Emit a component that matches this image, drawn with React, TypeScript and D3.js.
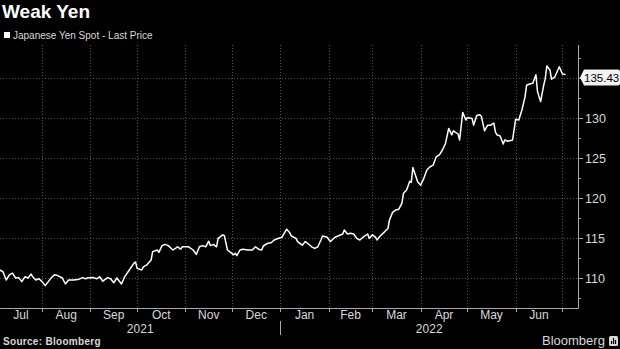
import React from 'react';
import * as d3 from 'd3';

const title = 'Weak Yen';
const legendLabel = 'Japanese Yen Spot - Last Price';

const dates = [
  '2021-07-05', '2021-07-07', '2021-07-09', '2021-07-11', '2021-07-13', '2021-07-15', '2021-07-17', '2021-07-19',
  '2021-07-21', '2021-07-23', '2021-07-25', '2021-07-26', '2021-07-28', '2021-07-30', '2021-08-01', '2021-08-03',
  '2021-08-05', '2021-08-07', '2021-08-09', '2021-08-11', '2021-08-14', '2021-08-16', '2021-08-18', '2021-08-21',
  '2021-08-24', '2021-08-27', '2021-08-29', '2021-08-30', '2021-09-03', '2021-09-05', '2021-09-07', '2021-09-09',
  '2021-09-12', '2021-09-14', '2021-09-16', '2021-09-18', '2021-09-21', '2021-09-23', '2021-09-26', '2021-09-29',
  '2021-09-30', '2021-10-01', '2021-10-04', '2021-10-05', '2021-10-07', '2021-10-10', '2021-10-11', '2021-10-14',
  '2021-10-15', '2021-10-17', '2021-10-19', '2021-10-21', '2021-10-24', '2021-10-27', '2021-10-29', '2021-10-30',
  '2021-11-03', '2021-11-06', '2021-11-08', '2021-11-10', '2021-11-12', '2021-11-14', '2021-11-16', '2021-11-17',
  '2021-11-19', '2021-11-21', '2021-11-22', '2021-11-25', '2021-11-26', '2021-11-28', '2021-11-30', '2021-12-02',
  '2021-12-03', '2021-12-04', '2021-12-06', '2021-12-08', '2021-12-11', '2021-12-14', '2021-12-16', '2021-12-18',
  '2021-12-20', '2021-12-21', '2021-12-24', '2021-12-26', '2021-12-28', '2021-12-30', '2022-01-02', '2022-01-05',
  '2022-01-07', '2022-01-08', '2022-01-11', '2022-01-12', '2022-01-15', '2022-01-17', '2022-01-19', '2022-01-21',
  '2022-01-23', '2022-01-25', '2022-01-27', '2022-01-28', '2022-01-31', '2022-02-02', '2022-02-05', '2022-02-07',
  '2022-02-10', '2022-02-11', '2022-02-13', '2022-02-15', '2022-02-17', '2022-02-19', '2022-02-21', '2022-02-23',
  '2022-02-26', '2022-02-27', '2022-03-01', '2022-03-03', '2022-03-04', '2022-03-06', '2022-03-09', '2022-03-11',
  '2022-03-12', '2022-03-14', '2022-03-16', '2022-03-18', '2022-03-20', '2022-03-21', '2022-03-23', '2022-03-25',
  '2022-03-26', '2022-03-27', '2022-03-29', '2022-03-30', '2022-04-01', '2022-04-03', '2022-04-05', '2022-04-07',
  '2022-04-09', '2022-04-11', '2022-04-13', '2022-04-15', '2022-04-17', '2022-04-19', '2022-04-21', '2022-04-22',
  '2022-04-25', '2022-04-26', '2022-04-28', '2022-04-30', '2022-05-01', '2022-05-04', '2022-05-05', '2022-05-07',
  '2022-05-09', '2022-05-10', '2022-05-12', '2022-05-14', '2022-05-16', '2022-05-18', '2022-05-19', '2022-05-20',
  '2022-05-22', '2022-05-24', '2022-05-25', '2022-05-27', '2022-05-30', '2022-06-01', '2022-06-03', '2022-06-05',
  '2022-06-07', '2022-06-08', '2022-06-10', '2022-06-12', '2022-06-14', '2022-06-15', '2022-06-17', '2022-06-19',
  '2022-06-20', '2022-06-21', '2022-06-23', '2022-06-24', '2022-06-26', '2022-06-29', '2022-07-01', '2022-07-03',
];

const values = [
  111.0, 110.75, 109.75, 110.4, 110.6, 110.0, 110.05, 109.55,
  110.15, 110.0, 110.5, 110.15, 109.75, 109.9, 109.55, 109.05,
  109.55, 110.05, 110.4, 110.3, 110.0, 109.25, 109.75, 109.75,
  109.8, 110.05, 109.9, 110.0, 110.05, 109.9, 110.15, 109.6,
  110.05, 109.9, 109.4, 110.0, 109.25, 110.15, 111.0, 111.85,
  112.0, 111.2, 111.0, 111.4, 111.6, 112.25, 113.3, 113.5,
  113.2, 114.05, 114.2, 114.05, 113.5, 113.9, 113.6, 113.9,
  113.9, 113.5, 112.95, 113.9, 114.05, 113.9, 114.6, 114.05,
  114.2, 113.9, 114.95, 115.4, 115.3, 113.5, 113.2, 112.9,
  113.1, 112.8, 113.5, 113.6, 113.5, 113.5, 113.9, 113.6,
  113.5, 114.0, 114.35, 114.4, 114.75, 114.9, 115.1, 116.1,
  115.65, 115.25, 114.95, 114.55, 114.1, 114.55, 114.25, 113.9,
  113.7, 113.9, 114.75, 115.25, 115.1, 114.55, 115.1, 115.25,
  115.5, 116.0, 115.5, 115.6, 115.5, 114.95, 114.75, 115.1,
  115.5, 114.95, 115.4, 115.1, 114.75, 115.25, 115.8, 116.2,
  117.25, 118.2, 118.5, 118.6, 119.35, 120.6, 121.0, 122.1,
  121.95, 123.8, 122.65, 122.05, 121.6, 122.45, 123.5, 123.9,
  124.1, 125.15, 125.4, 126.0, 126.85, 128.7, 127.9, 128.4,
  128.0, 127.25, 130.7, 129.75, 130.05, 129.95, 129.1, 130.3,
  130.4, 130.2, 128.4, 129.1, 129.1, 129.35, 128.25, 127.9,
  127.75, 126.75, 127.25, 127.1, 127.25, 129.85, 129.75, 131.0,
  132.65, 134.1, 134.25, 134.35, 135.4, 133.3, 132.05, 134.1,
  134.95, 136.5, 136.0, 134.85, 135.1, 136.4, 135.5, 135.43,
];

const yTicks = [110, 115, 120, 125, 130, 135];
const yMinorTicks = [107.5, 112.5, 117.5, 122.5, 127.5, 132.5, 137.5];
const years = ['2021', '2022'];
const lastValueLabel = '135.43';

const W = 620;
const H = 349;
const plotLeft = 0;
const plotRight = 578;
const plotTop = 45;
const plotBottom = 308;

const parse = d3.timeParse('%Y-%m-%d');

export default function App() {
  const data = dates.map((d, i) => ({ date: parse(d) as Date, value: values[i] }));

  const x = d3.scaleTime()
    .domain([new Date(2021, 6, 5), new Date(2022, 6, 11)])
    .range([plotLeft, plotRight]);

  const y = d3.scaleLinear()
    .domain([110, 135])
    .range([278, 78]);

  const line = d3.line<{ date: Date; value: number }>()
    .x(d => x(d.date))
    .y(d => y(d.value));

  // month boundaries inside the plot
  const monthTicks = d3.timeMonth.range(new Date(2021, 7, 1), new Date(2022, 6, 2));
  // month labels centred between boundaries (first one clipped at left edge)
  const monthStarts = d3.timeMonth.range(new Date(2021, 6, 1), new Date(2022, 6, 1));
  const yearStart = new Date(2022, 0, 1);

  const gridColor = '#555';
  const axisColor = '#aaa';
  const textColor = '#d9d9d9';
  const font = '"Liberation Sans", Arial, sans-serif';

  const last = data[data.length - 1];
  const ly = y(last.value);
  // tick labels hidden behind the last-value tag are not drawn
  const visibleYTicks = yTicks.filter(t => Math.abs(y(t) - ly) > 10);

  return (
    <svg width={W} height={H} style={{ position: 'absolute', left: 0, top: 0, background: '#000' }} fontFamily={font}>
      <rect width={W} height={H} fill="#000" />

      <text x={2} y={18} fill="#fff" fontSize={19} fontWeight="bold">{title}</text>
      <rect x={4} y={32} width={6} height={6} fill="#fff" />
      <text x={13} y={39} fill={textColor} fontSize={10}>{legendLabel}</text>

      {/* grid */}
      <g stroke={gridColor} strokeWidth={1} strokeDasharray="1,2">
        {monthTicks.map((m, i) => (
          <line key={i} x1={Math.round(x(m)) + 0.5} x2={Math.round(x(m)) + 0.5} y1={plotTop} y2={plotBottom} />
        ))}
        {yTicks.map(t => (
          <line key={t} x1={plotLeft} x2={plotRight} y1={Math.round(y(t)) + 0.5} y2={Math.round(y(t)) + 0.5} />
        ))}
      </g>

      {/* axes */}
      <g stroke={axisColor} strokeWidth={1}>
        <line x1={plotLeft} x2={plotRight + 0.5} y1={plotBottom + 0.5} y2={plotBottom + 0.5} />
        <line x1={plotRight + 0.5} x2={plotRight + 0.5} y1={plotTop} y2={plotBottom + 0.5} />
        {monthTicks.map((m, i) => (
          <line key={i} x1={Math.round(x(m)) + 0.5} x2={Math.round(x(m)) + 0.5} y1={plotBottom} y2={plotBottom + 4} />
        ))}
        <line x1={Math.round(x(yearStart)) + 0.5} x2={Math.round(x(yearStart)) + 0.5} y1={plotBottom + 13} y2={plotBottom + 27} />
        {yTicks.map(t => (
          <line key={t} x1={plotRight} x2={plotRight + 5} y1={Math.round(y(t)) + 0.5} y2={Math.round(y(t)) + 0.5} />
        ))}
        {yMinorTicks.map(t => (
          <line key={t} x1={plotRight} x2={plotRight + 3} y1={Math.round(y(t)) + 0.5} y2={Math.round(y(t)) + 0.5} />
        ))}
      </g>

      {visibleYTicks.map(t => (
        <text key={t} x={plotRight + 7} y={y(t) + 4.5} fill={textColor} fontSize={12.5}>{t}</text>
      ))}

      {monthStarts.map((m, i) => {
        const a = Math.max(plotLeft, x(m));
        const b = x(d3.timeMonth.offset(m, 1));
        return (
          <text key={i} x={(a + b) / 2} y={319} fill={textColor} fontSize={12} textAnchor="middle">
            {d3.timeFormat('%b')(m)}
          </text>
        );
      })}
      <text x={(plotLeft + x(yearStart)) / 2} y={333} fill={textColor} fontSize={12} textAnchor="middle">{years[0]}</text>
      <text x={(x(yearStart) + plotRight) / 2} y={333} fill={textColor} fontSize={12} textAnchor="middle">{years[1]}</text>

      <path d={line(data) ?? ''} fill="none" stroke="#fff" strokeWidth={1.5} strokeLinejoin="round" />

      {/* last value tag */}
      <path
        d={`M${plotRight + 2},${ly + 3} L${plotRight + 6},${ly - 5} L${W - 2},${ly - 5} Q${W},${ly - 5} ${W},${ly - 3} L${W},${ly + 9} Q${W},${ly + 11} ${W - 2},${ly + 11} L${plotRight + 6},${ly + 11} Z`}
        fill="#f2f2f2"
      />
      <text x={plotRight + 6} y={ly + 7.5} fill="#000" fontSize={11.5}>{lastValueLabel}</text>

      <text x={3} y={345} fill={textColor} fontSize={10} fontWeight="bold" letterSpacing={0.3}>Source: Bloomberg</text>
      <text x={542} y={345} fill={textColor} fontSize={13}>Bloomberg</text>
      <rect x={609} y={336} width={9} height={10} rx={1.5} fill={textColor} />
      <g stroke="#000" strokeWidth={1.2}>
        <line x1={611.5} x2={611.5} y1={341} y2={344} />
        <line x1={613.5} x2={613.5} y1={338} y2={344} />
        <line x1={615.5} x2={615.5} y1={340} y2={344} />
      </g>
    </svg>
  );
}
